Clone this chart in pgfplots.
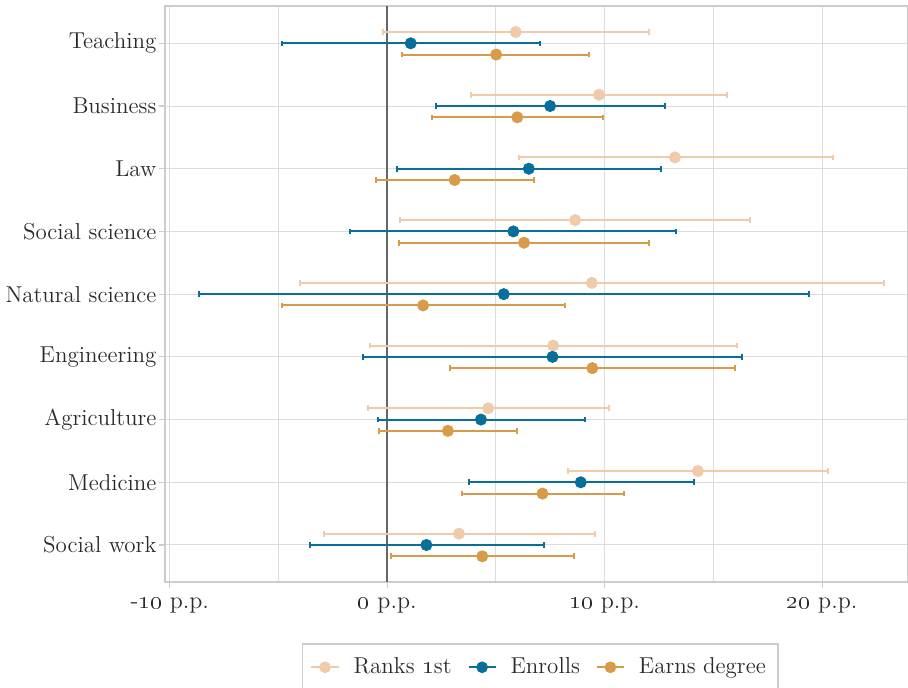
\documentclass[border=0pt]{standalone}
\usepackage{pgfplots}
\pgfplotsset{compat=1.18}
\usepackage{pgfplotstable}
\definecolor{cR}{HTML}{EFCBAA}
\definecolor{cE}{HTML}{086F9B}
\definecolor{cD}{HTML}{D79B4A}
\definecolor{gridc}{HTML}{DCDCDC}
\definecolor{framec}{HTML}{CCCCCC}
\definecolor{textc}{HTML}{2B2B2B}
\definecolor{zeroc}{HTML}{666666}

\pgfplotstableread{
y x lo hi
8.18 5.91 -0.20 12.04
7.18 9.74 3.87 15.63
6.18 13.23 6.04 20.48
5.18 8.64 0.59 16.70
4.18 9.41 -4.00 22.86
3.18 7.63 -0.79 16.09
2.18 4.64 -0.90 10.22
1.18 14.29 8.31 20.26
0.18 3.30 -2.92 9.54
}\ranks

\pgfplotstableread{
y x lo hi
8 1.08 -4.84 7.03
7 7.49 2.22 12.77
6 6.51 0.44 12.59
5 5.80 -1.69 13.30
4 5.36 -8.66 19.38
3 7.60 -1.10 16.33
2 4.31 -0.44 9.08
1 8.90 3.74 14.09
0 1.80 -3.56 7.19
}\enrolls

\pgfplotstableread{
y x lo hi
7.82 5.01 0.70 9.30
6.82 5.98 2.04 9.91
5.82 3.10 -0.53 6.75
4.82 6.29 0.53 12.04
3.82 1.65 -4.84 8.18
2.82 9.43 2.88 16.00
1.82 2.79 -0.37 5.96
0.82 7.14 3.45 10.88
-0.18 4.37 0.15 8.59
}\earns

\pgfplotsset{
  ebar/.style={only marks, mark=*, mark size=2.8pt, color=#1, forget plot,
    error bars/.cd, x dir=both, x explicit,
    error bar style={line width=1pt, color=#1},
    error mark=|,
    error mark options={line width=1pt, mark size=1.4pt, color=#1}},
}

\begin{document}
\begin{tikzpicture}
\begin{axis}[name=ax, scale only axis, width=371.6pt, height=288pt,
  xmin=-10.23, xmax=23.95, ymin=-0.59, ymax=8.595,
  xtick={-10,0,10,20},
  xticklabels={-\oldstylenums{10} p.p., \oldstylenums{0} p.p., \oldstylenums{10} p.p., \oldstylenums{20} p.p.},
  minor xtick={-5,5,15},
  xmajorgrids, xminorgrids, ymajorgrids,
  major grid style={draw=gridc, line width=0.5pt},
  minor grid style={draw=gridc, line width=0.5pt},
  ytick={0,...,8},
  yticklabels={Social work, Medicine, Agriculture, Engineering, Natural science, Social science, Law, Business, Teaching},
  axis line style={draw=framec, line width=0.8pt},
  tick align=outside, major tick length=3pt, minor tick length=0pt,
  xtick pos=lower, ytick pos=left,
  tick style={draw=framec, line width=0.6pt},
  yticklabel style={font=\fontsize{11.5}{14}\selectfont, text=textc, inner xsep=1pt},
  xticklabel style={font=\fontsize{12}{14}\selectfont, text=textc, yshift=-1.5pt},
  legend style={at={(0.505,0)}, anchor=north, yshift=-30.5pt, legend columns=3,
    draw=framec, line width=0.8pt, font=\fontsize{11.5}{14}\selectfont, text=textc,
    inner xsep=4pt, inner ysep=5pt,
    /tikz/every odd column/.append style={column sep=5pt},
    /tikz/every even column/.append style={column sep=6pt}},
  legend cell align=left,
  legend image code/.code={\draw[mark repeat=2,mark phase=2,#1] plot coordinates {(0cm,0cm) (0.238cm,0cm) (0.476cm,0cm)};},
]
\addplot[draw=zeroc, line width=1pt, forget plot] coordinates {(0,-0.59) (0,8.595)};
\addplot[ebar=cR] table[x=x, y=y, x error plus expr=\thisrow{hi}-\thisrow{x}, x error minus expr=\thisrow{x}-\thisrow{lo}] {\ranks};
\addplot[ebar=cE] table[x=x, y=y, x error plus expr=\thisrow{hi}-\thisrow{x}, x error minus expr=\thisrow{x}-\thisrow{lo}] {\enrolls};
\addplot[ebar=cD] table[x=x, y=y, x error plus expr=\thisrow{hi}-\thisrow{x}, x error minus expr=\thisrow{x}-\thisrow{lo}] {\earns};
\addlegendimage{cR, line width=1pt, mark=*, mark size=2.4pt}
\addlegendentry{Ranks \oldstylenums{1}st}
\addlegendimage{cE, line width=1pt, mark=*, mark size=2.4pt}
\addlegendentry{Enrolls}
\addlegendimage{cD, line width=1pt, mark=*, mark size=2.4pt}
\addlegendentry{Earns degree}
\end{axis}
\pgfresetboundingbox
\path[use as bounding box] ([xshift=-82.4pt, yshift=-53pt]ax.south west) rectangle ([yshift=3pt]ax.north east);
\end{tikzpicture}
\end{document}
